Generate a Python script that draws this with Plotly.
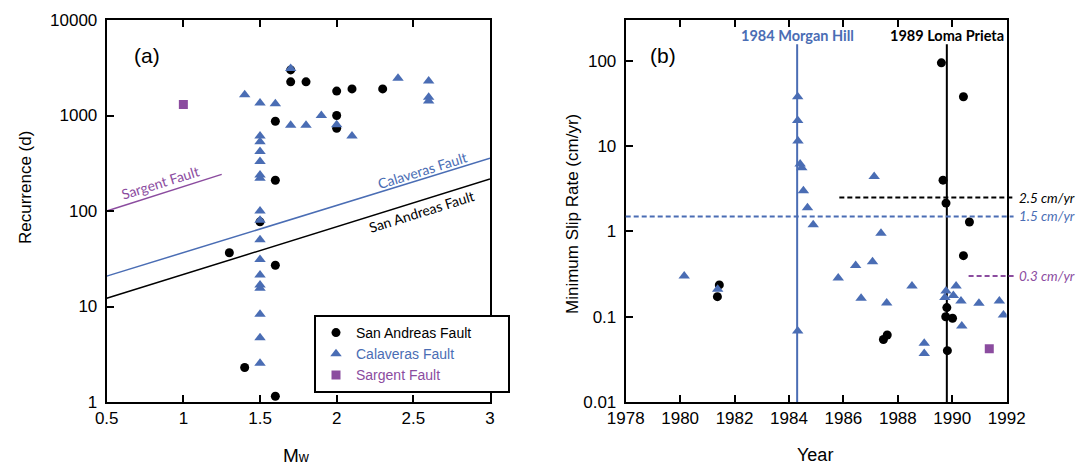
import numpy as np
import plotly.graph_objects as go

BLUE = "#4A6DB4"
PURPLE = "#8B4C9F"
BLACK = "#000000"
TICKFONT = "Liberation Sans, Arial, sans-serif"
LABFONT = "Lato, Open Sans, sans-serif"
NBSP = "\u00a0"

# ---------------- Panel (a): Recurrence vs Mw ----------------
sa_mw = [1.7, 1.7, 1.8, 2.0, 2.1, 2.3, 1.6, 2.0, 2.0, 1.6, 1.5, 1.3, 1.6, 1.4, 1.6]
sa_rec = [3000, 2250, 2250, 1800, 1900, 1900, 870, 1000, 735, 210, 77, 36.5, 27, 2.3, 1.15]

cal_mw = [1.4, 1.5, 1.6, 1.7, 1.7, 1.8, 1.9, 2.0, 2.1, 2.4, 2.6, 2.6, 2.6,
          1.5, 1.5, 1.5, 1.5, 1.5, 1.5, 1.5, 1.5, 1.5, 1.5, 1.5, 1.5, 1.5, 1.5, 1.5, 1.5, 1.5]
cal_rec = [1650, 1350, 1330, 3100, 790, 790, 1000, 800, 610, 2450, 2300, 1550, 1420,
           610, 530, 420, 330, 238, 220, 100, 80, 50, 31, 21.4, 16.8, 15.5, 8.3, 4.7, 2.55]

sar_mw = [1.0]
sar_rec = [1300]

# trend lines (endpoints)
trend_mw = [0.5, 3.0]
sa_trend_rec = [12.2, 216]
cal_trend_rec = [20.8, 356]
sar_trend_mw = [0.5, 1.25]
sar_trend_rec = [100, 242]

trend_labels = ["Sargent Fault", "Calaveras Fault", "San Andreas Fault"]
trend_label_mw = [0.85, 2.555, 2.555]
trend_label_rec = [200, 268, 98]
trend_label_colors = [PURPLE, BLUE, BLACK]

a_xticks = [0.5, 1, 1.5, 2, 2.5, 3]
a_xticktext = ["0.5", "1", "1.5", "2", "2.5", "3"]
a_yticks = [1, 10, 100, 1000, 10000]
a_yticktext = ["1", "10", "100", "1000", "10000"]

# ---------------- Panel (b): Minimum slip rate vs year ----------------
sa_year = [1981.44, 1981.37, 1987.47, 1987.61, 1989.6, 1989.66, 1989.77, 1989.8, 1989.76,
           1990.01, 1989.82, 1990.41, 1990.41, 1990.63]
sa_slip = [0.236, 0.172, 0.054, 0.061, 95, 4.0, 2.15, 0.128, 0.10, 0.096, 0.040, 38, 0.52, 1.29]

cal_year = [1980.15, 1981.38, 1984.32, 1984.32, 1984.33, 1984.41, 1984.47, 1984.53, 1984.68,
            1984.89, 1984.32, 1985.81, 1986.45, 1986.65, 1987.07, 1987.13, 1987.38, 1987.59,
            1988.52, 1988.97, 1988.97, 1989.77, 1989.73, 1990.04, 1990.14, 1990.32, 1990.35,
            1990.98, 1991.73, 1991.88]
cal_slip = [0.30, 0.21, 38, 20, 11.5, 6.2, 5.6, 3.0, 1.9,
            1.2, 0.068, 0.285, 0.40, 0.165, 0.44, 4.4, 0.95, 0.145,
            0.23, 0.049, 0.037, 0.20, 0.168, 0.177, 0.23, 0.153, 0.078,
            0.144, 0.153, 0.105]

sar_year = [1991.36]
sar_slip = [0.042]

event_years = [1984.3, 1989.8]
event_labels = ["1984 Morgan Hill", "1989 Loma Prieta"]
event_colors = [BLUE, BLACK]
event_line_top = 157
event_label_level = 197

ref_rates = [2.5, 1.5, 0.3]
ref_start_years = [1985.85, 1978.0, 1990.6]
ref_labels = ["2.5 cm/yr", "1.5 cm/yr", "0.3 cm/yr"]
ref_colors = [BLACK, BLUE, PURPLE]

b_xticks = [1978, 1980, 1982, 1984, 1986, 1988, 1990, 1992]
b_yticks = [0.01, 0.1, 1, 10, 100]
b_yticktext = ["0.01", "0.1", "1", "10", "100"]

B_XRANGE = [1978, 1992]
B_YRANGE = [-2, 2.48]

fig = go.Figure()

# trend lines panel (a)
fig.add_trace(go.Scatter(x=trend_mw, y=sa_trend_rec, mode="lines", line=dict(color=BLACK, width=1.5),
                         showlegend=False, hoverinfo="skip", xaxis="x", yaxis="y"))
fig.add_trace(go.Scatter(x=trend_mw, y=cal_trend_rec, mode="lines", line=dict(color=BLUE, width=1.5),
                         showlegend=False, hoverinfo="skip", xaxis="x", yaxis="y"))
fig.add_trace(go.Scatter(x=sar_trend_mw, y=sar_trend_rec, mode="lines", line=dict(color=PURPLE, width=1.5),
                         showlegend=False, hoverinfo="skip", xaxis="x", yaxis="y"))

circ = dict(symbol="circle", size=9, color=BLACK)
tri = dict(symbol="triangle-up", size=10, color=BLUE)
sq = dict(symbol="square", size=9, color=PURPLE)

fig.add_trace(go.Scatter(x=sa_mw, y=sa_rec, mode="markers", marker=circ,
                         name="<span style='color:#000000'>San Andreas Fault</span>" + NBSP * 8,
                         xaxis="x", yaxis="y"))
fig.add_trace(go.Scatter(x=cal_mw, y=cal_rec, mode="markers", marker=tri,
                         name=f"<span style='color:{BLUE}'>Calaveras Fault</span>", xaxis="x", yaxis="y"))
fig.add_trace(go.Scatter(x=sar_mw, y=sar_rec, mode="markers", marker=sq,
                         name=f"<span style='color:{PURPLE}'>Sargent Fault</span>", xaxis="x", yaxis="y"))

fig.add_trace(go.Scatter(x=sa_year, y=sa_slip, mode="markers", marker=circ, showlegend=False,
                         xaxis="x2", yaxis="y2"))
fig.add_trace(go.Scatter(x=cal_year, y=cal_slip, mode="markers", marker=tri, showlegend=False,
                         xaxis="x2", yaxis="y2"))
fig.add_trace(go.Scatter(x=sar_year, y=sar_slip, mode="markers", marker=sq, showlegend=False,
                         xaxis="x2", yaxis="y2"))

shapes = []
annotations = []

# event vertical lines (shape coords on log axes are raw data values)
for yr, lab, col in zip(event_years, event_labels, event_colors):
    shapes.append(dict(type="line", xref="x2", yref="y2", x0=yr, x1=yr,
                       y0=0.01, y1=event_line_top,
                       line=dict(color=col, width=2), layer="below"))
    annotations.append(dict(x=yr, y=np.log10(event_label_level), xref="x2", yref="y2", text=f"<b>{lab}</b>",
                            showarrow=False, font=dict(family=LABFONT, size=14.5, color=col),
                            xanchor="center", yanchor="middle"))

# reference dashed lines (extend slightly past right axis)
for rate, start, lab, col in zip(ref_rates, ref_start_years, ref_labels, ref_colors):
    x0 = (start - B_XRANGE[0]) / (B_XRANGE[1] - B_XRANGE[0])
    x1 = 1.018 if col != PURPLE else 1.024
    shapes.append(dict(type="line", xref="x2 domain", yref="y2", x0=x0, x1=x1,
                       y0=rate, y1=rate,
                       line=dict(color=col, width=2, dash="5px,3px"), layer="above"))
    annotations.append(dict(x=1.028, y=np.log10(rate), xref="x2 domain", yref="y2",
                            text=f"<i>{lab}</i>", showarrow=False,
                            font=dict(family=LABFONT, size=13.5, color=col),
                            xanchor="left", yanchor="middle"))

# trend labels panel (a)
for lab, mw, rec, col in zip(trend_labels, trend_label_mw, trend_label_rec, trend_label_colors):
    annotations.append(dict(x=mw, y=np.log10(rec), xref="x", yref="y", text=lab, showarrow=False,
                            textangle=-17.3, font=dict(family=LABFONT, size=14, color=col),
                            xanchor="center", yanchor="middle"))

def paper_note(px, py, text, size, angle=0):
    return dict(x=px / 1089, y=1 - py / 467, xref="paper", yref="paper", text=text,
                textangle=angle, showarrow=False, xanchor="center", yanchor="middle",
                font=dict(family=TICKFONT, size=size, color=BLACK))

# panel tags
annotations.append(paper_note(147, 55, "(a)", 21))
annotations.append(paper_note(663, 55, "(b)", 21))

# axis titles
annotations.append(paper_note(26, 188, "Recurrence (d)", 17, -90))
annotations.append(paper_note(572, 214, "Minimum Slip Rate (cm/yr)", 17, -90))
annotations.append(paper_note(296, 455, "M<span style='font-size:14px'>w</span>", 19))
annotations.append(paper_note(815, 455, "Year", 18))

axis_common = dict(showline=True, linecolor=BLACK, linewidth=2, ticks="inside", ticklen=7,
                   tickwidth=2, tickcolor=BLACK, showgrid=False, zeroline=False, automargin=False,
                   tickfont=dict(family=TICKFONT, size=17, color=BLACK))

Y_DOM = [1 - 402 / 467, 1 - 20 / 467]

fig.update_layout(
    template="none",
    width=1089, height=467, margin=dict(l=0, r=0, t=0, b=0, pad=0), autosize=False,
    paper_bgcolor="white", plot_bgcolor="white",
    xaxis=dict(domain=[106.7 / 1089, 490 / 1089], range=[0.5, 3], tickvals=a_xticks, ticktext=a_xticktext,
               mirror="ticks", anchor="y", **axis_common),
    yaxis=dict(domain=Y_DOM, type="log", range=[0, 4], tickvals=a_yticks, ticktext=a_yticktext,
               mirror=True, anchor="x", ticklabelstandoff=4, **axis_common),
    xaxis2=dict(domain=[625.7 / 1089, 1006.7 / 1089], range=B_XRANGE, tickvals=b_xticks,
                mirror="ticks", anchor="y2", **axis_common),
    yaxis2=dict(domain=Y_DOM, type="log", range=B_YRANGE, tickvals=b_yticks, ticktext=b_yticktext,
                mirror=True, anchor="x2", ticklabelstandoff=4, **axis_common),
    legend=dict(x=314 / 1089, y=1 - 315 / 467, xanchor="left", yanchor="top",
                bgcolor="white", bordercolor=BLACK, borderwidth=2,
                font=dict(family=TICKFONT, size=14, color=BLACK), tracegroupgap=0),
    shapes=shapes, annotations=annotations,
    showlegend=True,
)

fig.write_html("out.html")
